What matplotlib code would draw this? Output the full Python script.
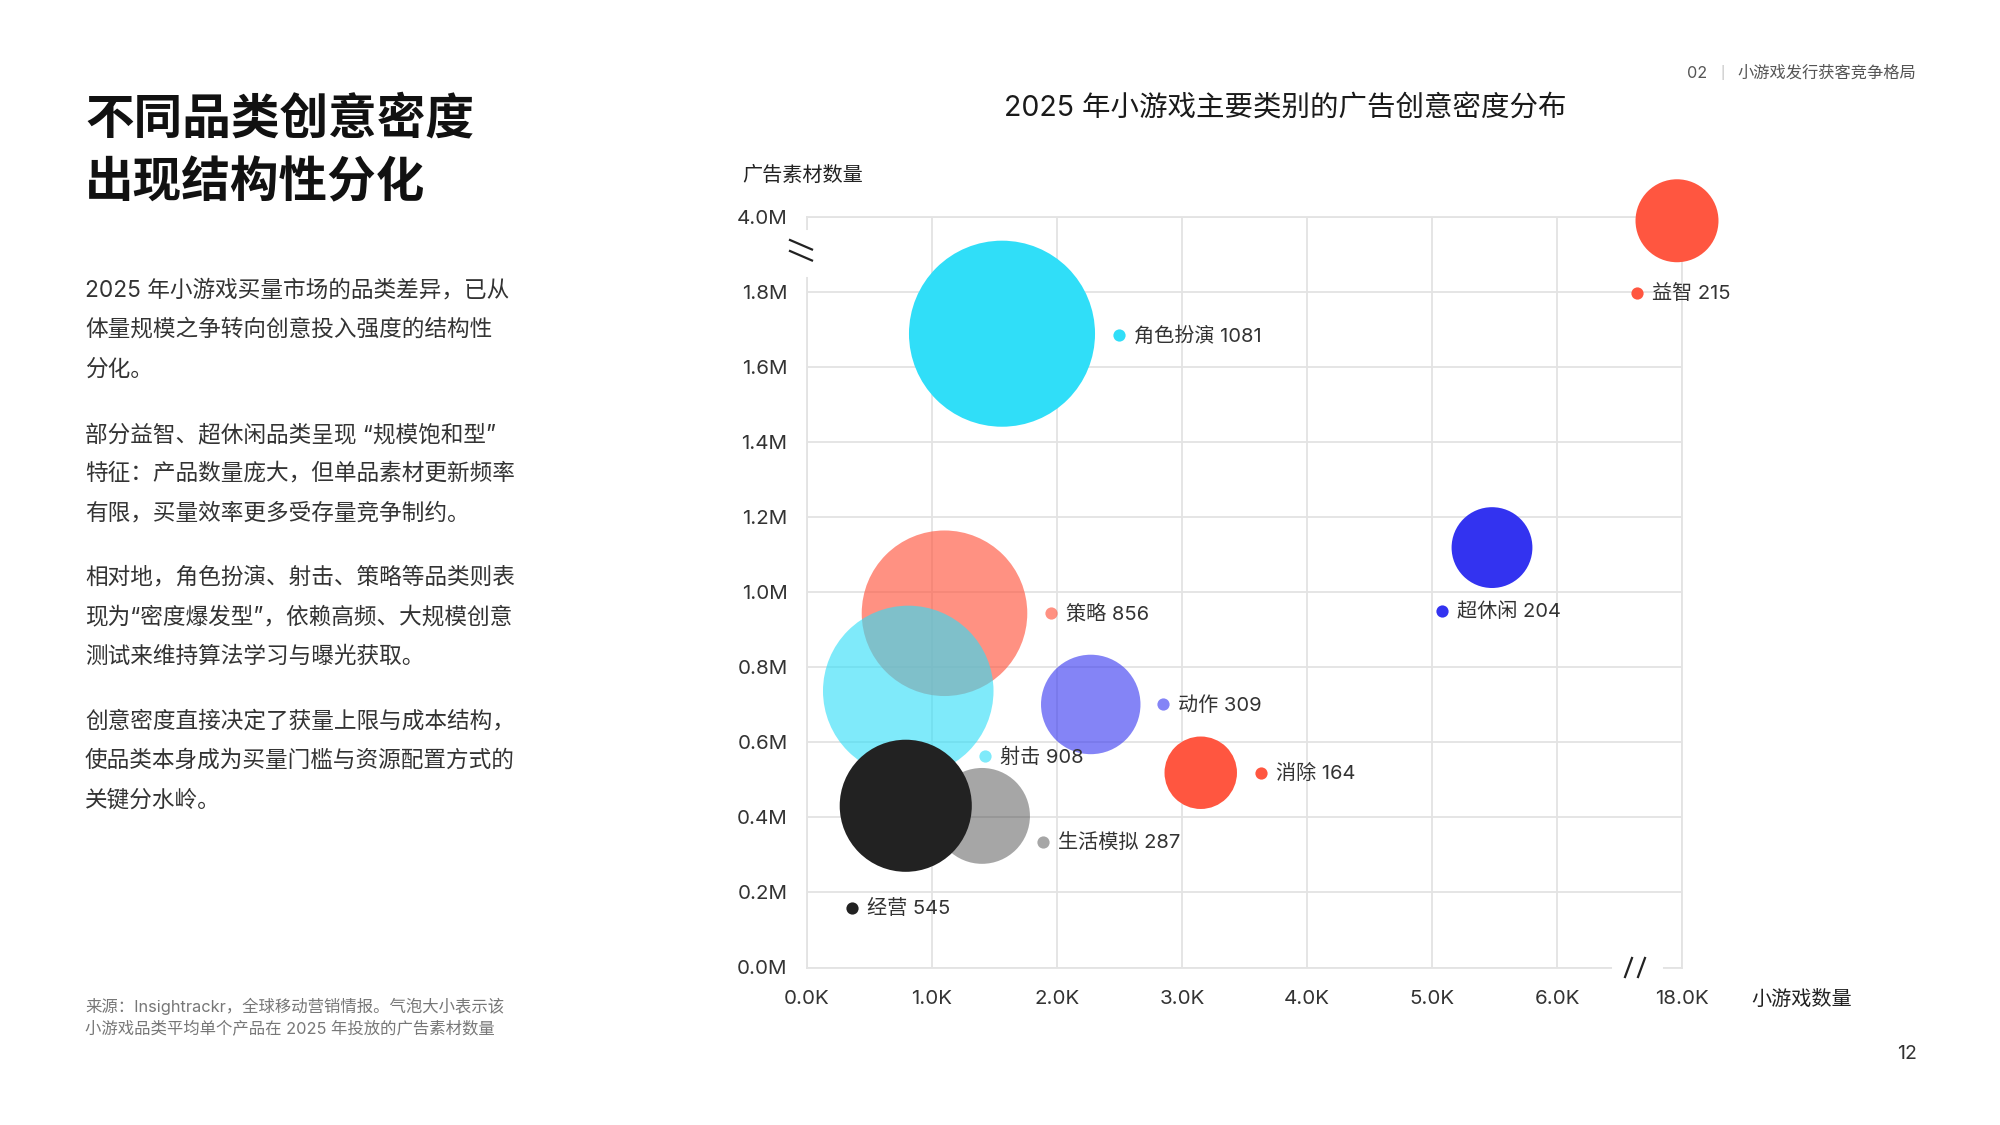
import matplotlib
matplotlib.use('Agg')
import matplotlib.pyplot as plt
from matplotlib import transforms
from matplotlib.colors import to_rgba
from matplotlib.lines import Line2D

plt.rcParams['font.family'] = ['Inter', 'Noto Sans CJK SC', 'DejaVu Sans']

# data
categories = ['角色扮演', '益智', '超休闲', '策略', '射击', '动作', '消除', '生活模拟', '经营']
game_count_k = [1.56, 17.96, 5.48, 1.10, 0.81, 2.27, 3.15, 1.40, 0.79]
ad_creatives_m = [1.689, 3.99, 1.119, 0.944, 0.737, 0.701, 0.519, 0.404, 0.431]
creatives_per_game = [1081, 215, 204, 856, 908, 309, 164, 287, 545]
colors = ['#30DEF8', '#FF5640', '#3333F0', '#FF5640', '#30DEF8', '#3333F0', '#FF5640', '#222222', '#222222']
alphas = [1, 1, 1, 0.65, 0.62, 0.6, 1, 0.4, 1]

x_tick_values = [0, 1, 2, 3, 4, 5, 6, 18]
y_tick_values = [0, 0.2, 0.4, 0.6, 0.8, 1.0, 1.2, 1.4, 1.6, 1.8, 4.0]

# label placement relative to bubble centre, in pixels (right, down)
label_offsets = [(117, 1), (-40, 72), (-50, 63), (106, 0), (77, 65),
                 (72, 0), (60, 0), (61, 26), (-54, 102)]

W, H = 2000, 1125


def fx(x):
    return x / W


def fy(y):
    return 1 - y / H


# broken axes: 6K -> 18K and 1.8M -> 4.0M each take one tick step
def to_x(k):
    return k if k <= 6 else 7 + (k - 18)


def to_y(m):
    return m if m <= 1.8 else 2.0 + (m - 4.0)


fig = plt.figure(figsize=(20, 11.25), dpi=100)
fig.patch.set_facecolor('white')

ax = fig.add_axes([fx(807), fy(967.5), 875 / W, 750.5 / H])
ax.set_xlim(0, 7)
ax.set_ylim(0, 2.0)

grid_c = '#e3e3e3'
ax.set_xticks([to_x(v) for v in x_tick_values])
ax.set_xticklabels([f'{v:.1f}K' for v in x_tick_values])
ax.set_yticks([to_y(v) for v in y_tick_values])
ax.set_yticklabels([f'{v:.1f}M' for v in y_tick_values])
ax.tick_params(length=0, labelsize=14.8, labelcolor='#333333')
ax.tick_params(axis='y', pad=14)
ax.tick_params(axis='x', pad=16.5)
for lbl in ax.get_yticklabels():
    lbl.set_y(lbl.get_position()[1])
ax.grid(True, color=grid_c, lw=1.3)
for s in ax.spines.values():
    s.set_color(grid_c)
    s.set_linewidth(1.3)
ax.set_axisbelow(True)

# bubbles
xs = [to_x(v) for v in game_count_k]
ys = [to_y(v) for v in ad_creatives_m]
rgba = [to_rgba(c, a) for c, a in zip(colors, alphas)]
sizes = [16.6 * v for v in creatives_per_game]
ax.scatter(xs, ys, s=sizes, c=rgba, linewidths=0, zorder=3, clip_on=False)

# labels with small dots
for i, name in enumerate(categories):
    dx, dy = label_offsets[i]
    t_dot = transforms.offset_copy(ax.transData, fig=fig, x=dx, y=-dy, units='dots')
    t_txt = transforms.offset_copy(ax.transData, fig=fig, x=dx + 15, y=-dy - 1, units='dots')
    ax.plot(xs[i], ys[i], 'o', ms=8.8, color=rgba[i], mec='none',
            transform=t_dot, zorder=4, clip_on=False)
    ax.text(xs[i], ys[i], f'{name} {creatives_per_game[i]}', transform=t_txt,
            va='center', ha='left', fontsize=14.5, color='#333333', zorder=5)

# axis break marks
fig.add_artist(Line2D([fx(807), fx(807)], [fy(233), fy(273)], color='white', lw=5, zorder=10))
fig.add_artist(Line2D([fx(1615), fx(1659)], [fy(967.5), fy(967.5)], color='white', lw=5, zorder=10))
for oy in (0, 11):
    fig.add_artist(Line2D([fx(790), fx(812)], [fy(240 + oy), fy(249.5 + oy)],
                          color='#222222', lw=1.6, zorder=11))
for ox in (0, 13):
    fig.add_artist(Line2D([fx(1625 + ox), fx(1632 + ox)], [fy(977), fy(958)],
                          color='#222222', lw=1.6, zorder=11))

# axis titles
fig.text(fx(742), fy(175), '广告素材数量', fontsize=14.5, color='#222222', va='center', ha='left')
fig.text(fx(1751), fy(999), '小游戏数量', fontsize=14.5, color='#222222', va='center', ha='left')

# chart title
fig.text(fx(1285), fy(109), '2025 年小游戏主要类别的广告创意密度分布', fontsize=20.5,
         color='#1a1a1a', va='center', ha='center')

# left heading
fig.text(fx(85), fy(120), '不同品类创意密度', fontsize=35, fontweight='bold',
         color='#111111', va='center', ha='left')
fig.text(fx(85), fy(184), '出现结构性分化', fontsize=35, fontweight='bold',
         color='#111111', va='center', ha='left')

# body paragraphs
body_lines = [
    '2025 年小游戏买量市场的品类差异，已从',
    '体量规模之争转向创意投入强度的结构性',
    '分化。',
    '部分益智、超休闲品类呈现 “规模饱和型”',
    '特征：产品数量庞大，但单品素材更新频率',
    '有限，买量效率更多受存量竞争制约。',
    '相对地，角色扮演、射击、策略等品类则表',
    '现为“密度爆发型”，依赖高频、大规模创意',
    '测试来维持算法学习与曝光获取。',
    '创意密度直接决定了获量上限与成本结构，',
    '使品类本身成为买量门槛与资源配置方式的',
    '关键分水岭。',
]
body_y = [291, 330, 370, 435, 474, 514, 578, 617, 657, 722, 761, 801]
for line, y in zip(body_lines, body_y):
    fig.text(fx(85), fy(y), line, fontsize=16.3, color='#333333', va='center', ha='left')

# source note
fig.text(fx(85), fy(1006), '来源：Insightrackr，全球移动营销情报。气泡大小表示该',
         fontsize=11.8, color='#777777', va='center', ha='left')
fig.text(fx(85), fy(1029), '小游戏品类平均单个产品在 2025 年投放的广告素材数量',
         fontsize=11.8, color='#777777', va='center', ha='left')

# header and page number
fig.text(fx(1687), fy(73), '02', fontsize=11.7, color='#555555', va='center', ha='left')
fig.text(fx(1722), fy(73), '|', fontsize=9, color='#bbbbbb', va='center', ha='center')
fig.text(fx(1737), fy(73), '小游戏发行获客竞争格局', fontsize=11.7, color='#555555',
         va='center', ha='left')
fig.text(fx(1907), fy(1054), '12', fontsize=14, color='#333333', va='center', ha='center')

fig.savefig('out.png', dpi=100, facecolor='white')
